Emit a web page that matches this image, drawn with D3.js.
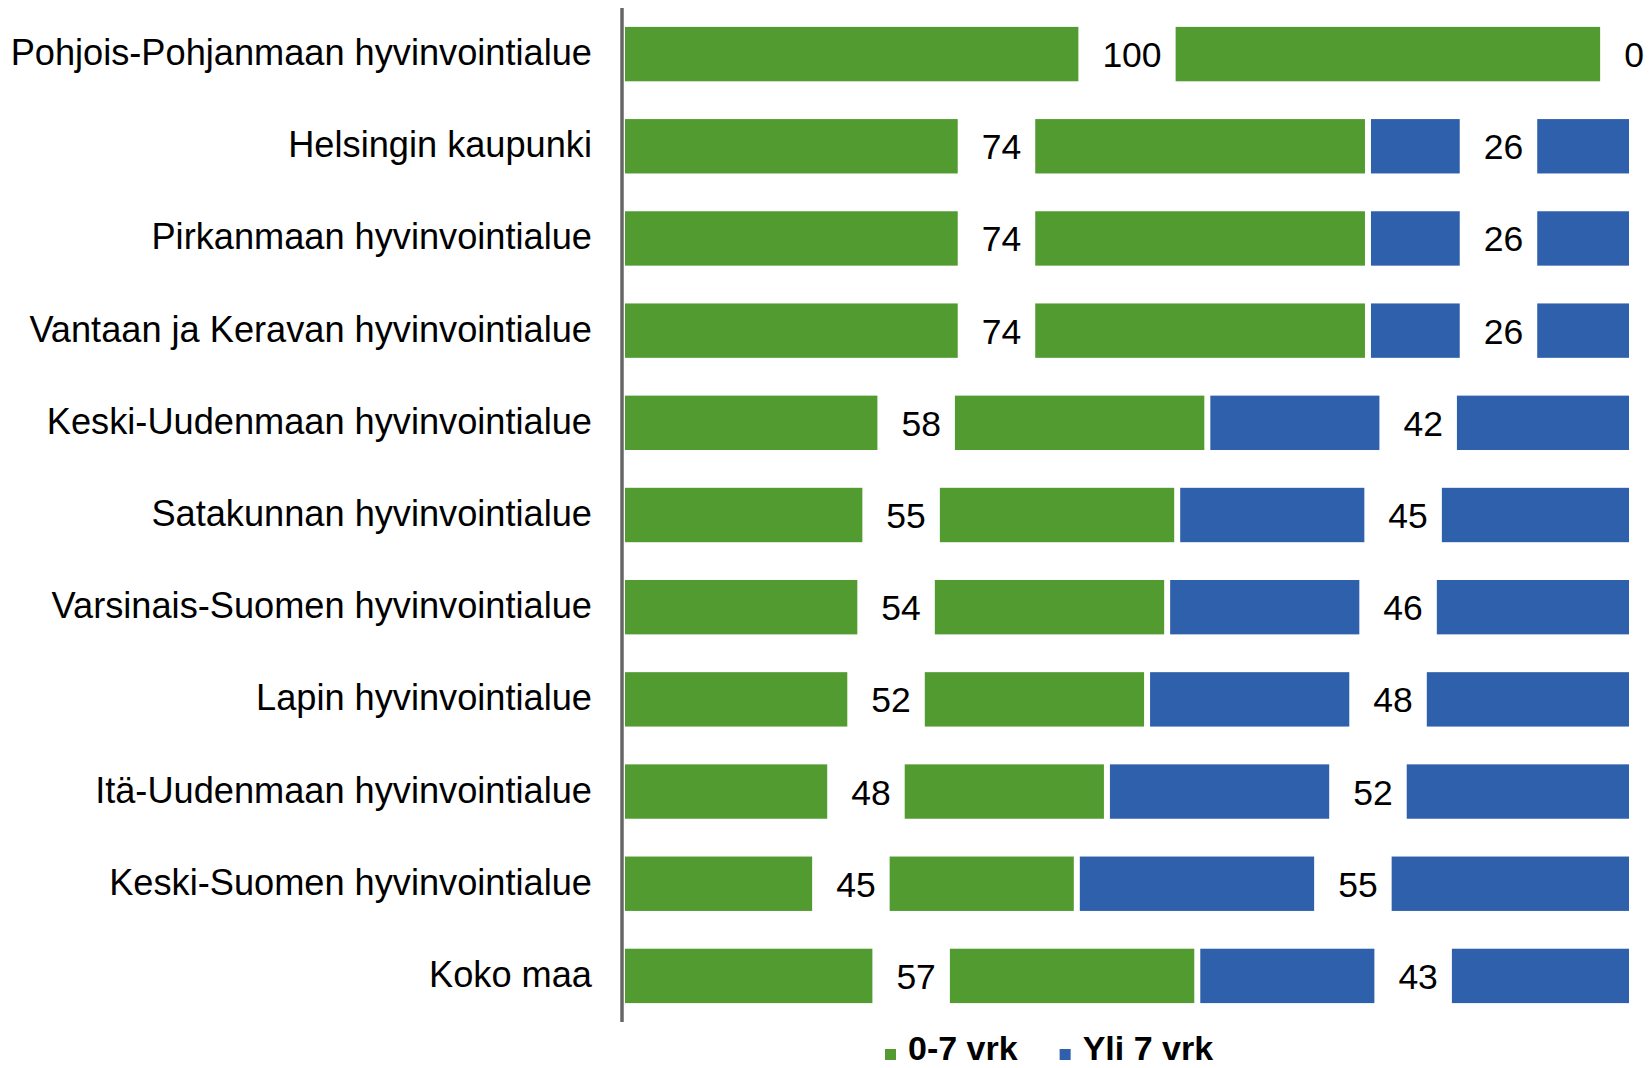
<!DOCTYPE html>
<html>
<head>
<meta charset="utf-8">
<script src="https://cdn.jsdelivr.net/npm/d3@7"></script>
<style>
  html, body { margin: 0; padding: 0; background: #fff; }
  svg text { font-family: "Liberation Sans", Arial, sans-serif; }
</style>
</head>
<body>
<svg id="chart" width="1650" height="1068"></svg>
<script>
const categories = [
  "Pohjois-Pohjanmaan hyvinvointialue",
  "Helsingin kaupunki",
  "Pirkanmaan hyvinvointialue",
  "Vantaan ja Keravan hyvinvointialue",
  "Keski-Uudenmaan hyvinvointialue",
  "Satakunnan hyvinvointialue",
  "Varsinais-Suomen hyvinvointialue",
  "Lapin hyvinvointialue",
  "Itä-Uudenmaan hyvinvointialue",
  "Keski-Suomen hyvinvointialue",
  "Koko maa"
];
const seriesNames = ["0-7 vrk", "Yli 7 vrk"];
const short = [100, 74, 74, 74, 58, 55, 54, 52, 48, 45, 57];
const long  = [0, 26, 26, 26, 42, 45, 46, 48, 52, 55, 43];
const colors = ["#529b31", "#2e60ab"];

const svg = d3.select("#chart");
const x = d3.scaleLinear().domain([0, 100]).range([625, 1629]);
const y = d3.scaleBand().domain(categories).range([8, 1022]).paddingInner(0.41).paddingOuter(0.205);

const rows = categories.map((c, i) => ({ cat: c, vals: [short[i], long[i]] }));
const segs = [];
rows.forEach(r => {
  let acc = 0;
  r.vals.forEach((v, k) => {
    segs.push({ cat: r.cat, k, v, x0: acc, x1: acc + v });
    acc += v;
  });
});

const bh = y.bandwidth();
const gap = 3;
svg.append("g").selectAll("rect").data(segs.filter(d => d.v > 0)).join("rect")
  .attr("x", d => x(d.x0) + (d.x0 > 0 ? gap : 0))
  .attr("width", d => (x(d.x1) - (d.x1 < 100 ? gap : 0)) - (x(d.x0) + (d.x0 > 0 ? gap : 0)))
  .attr("y", d => y(d.cat))
  .attr("height", bh)
  .attr("fill", d => colors[d.k]);

// data labels with white boxes
const lg = svg.append("g");
segs.forEach(d => {
  const cx = (x(d.x0) + x(d.x1)) / 2;
  const cy = y(d.cat) + bh / 2;
  const g = lg.append("g");
  const box = g.append("rect").attr("fill", "#fff");
  const t = g.append("text")
    .attr("x", cx + 5).attr("y", cy + 13)
    .attr("text-anchor", "middle")
    .attr("font-size", 35.5)
    .attr("fill", "#000")
    .text(d.v);
  const w = t.node().getComputedTextLength() + 38;
  box.attr("x", cx - w / 2).attr("width", w).attr("y", cy - bh / 2 - 1).attr("height", bh + 2);
});

// category labels
svg.append("g").selectAll("text").data(categories).join("text")
  .attr("x", 592)
  .attr("y", d => y(d) + bh / 2 + 11)
  .attr("text-anchor", "end")
  .attr("font-size", 36.2)
  .attr("fill", "#000")
  .text(d => d);

// axis line
svg.append("line")
  .attr("x1", 622).attr("x2", 622)
  .attr("y1", y.range()[0]).attr("y2", y.range()[1])
  .attr("stroke", "#666").attr("stroke-width", 3.5);

// legend
const leg = svg.append("g");
let lx = 885;
seriesNames.forEach((n, i) => {
  leg.append("rect").attr("x", lx).attr("y", 1049).attr("width", 11).attr("height", 11).attr("fill", colors[i]);
  const t = leg.append("text").attr("x", lx + 23).attr("y", 1060)
    .attr("font-size", 34).attr("font-weight", "bold").attr("fill", "#000").text(n);
  lx = lx + 23 + t.node().getComputedTextLength() + 42;
});
</script>
</body>
</html>
